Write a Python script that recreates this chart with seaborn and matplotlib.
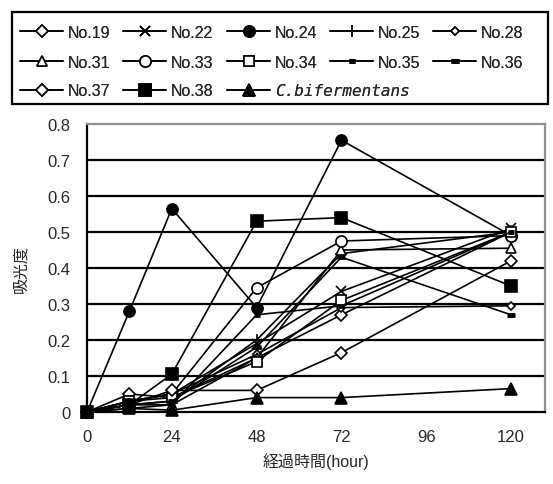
import matplotlib
matplotlib.use("Agg")
import matplotlib.pyplot as plt
from matplotlib.patches import Rectangle
import seaborn as sns
import pandas as pd

sns.set_style("white")
plt.rcParams['font.family'] = ['Liberation Sans', 'Noto Sans CJK JP', 'DejaVu Sans']

hours = [0, 12, 24, 48, 72, 120]
series_names = ["No.19", "No.22", "No.24", "No.25", "No.28",
                "No.31", "No.33", "No.34", "No.35", "No.36",
                "No.37", "No.38", "C.bifermentans"]
no19 = [0, 0.05, 0.04, 0.15, 0.27, 0.50]
no22 = [0, 0.03, 0.05, 0.19, 0.335, 0.51]
no24 = [0, 0.28, 0.565, 0.29, 0.755, 0.49]
no25 = [0, 0.02, 0.03, 0.20, 0.44, 0.50]
no28 = [0, 0.03, 0.05, 0.16, 0.29, 0.295]
no31 = [0, 0.02, 0.02, 0.15, 0.45, 0.455]
no33 = [0, 0.03, 0.05, 0.345, 0.475, 0.49]
no34 = [0, 0.03, 0.04, 0.14, 0.31, 0.50]
no35 = [0, 0.01, 0.02, 0.27, 0.295, 0.50]
no36 = [0, 0.02, 0.03, 0.18, 0.43, 0.27]
no37 = [0, 0.02, 0.06, 0.06, 0.165, 0.42]
no38 = [0, 0.02, 0.105, 0.53, 0.54, 0.35]
cbif = [0, 0.01, 0.005, 0.04, 0.04, 0.065]
values = [no19, no22, no24, no25, no28, no31, no33, no34, no35, no36, no37, no38, cbif]

markers = ["D", "x", "o", "+", "D", "^", "o", "s", "_", "_", "D", "s", "^"]
filled = [False, True, True, True, False, False, False, False, True, True, False, True, True]
msizes = [6, 7, 8, 8, 4.5, 7, 8, 7, 5, 6, 6, 8, 8]
mews = [1.2, 1.2, 1.2, 1.2, 1.2, 1.2, 1.2, 1.2, 3.5, 3.5, 1.2, 1.2, 1.2]

W, H = 553, 485
fig = plt.figure(figsize=(W / 100, H / 100), dpi=100)
ax = fig.add_axes([87/W, 1-413/H, (545-87)/W, (413-125)/H])

handles = []
for name, vals, mk, fl, ms, mw in zip(series_names, values, markers, filled, msizes, mews):
    df = pd.DataFrame({"hour": hours, "abs": vals})
    sns.lineplot(data=df, x="hour", y="abs", ax=ax, color="black", lw=1.2,
                 marker=mk, markersize=ms,
                 markerfacecolor=("black" if fl else "white"),
                 markeredgecolor="black", markeredgewidth=mw,
                 clip_on=False, legend=False, label=name)
    handles.append(ax.lines[-1])

ax.set_xlim(0, 129.6)
ax.set_ylim(0, 0.8)
ax.set_xticks([0, 24, 48, 72, 96, 120])
ax.set_yticks([0, 0.1, 0.2, 0.3, 0.4, 0.5, 0.6, 0.7, 0.8])
ax.set_yticklabels(["0", "0.1", "0.2", "0.3", "0.4", "0.5", "0.6", "0.7", "0.8"])
for yv in [0.1, 0.2, 0.3, 0.4, 0.5, 0.6, 0.7]:
    ax.axhline(yv, color="black", lw=1.6, zorder=0)
ax.tick_params(axis="x", direction="in", length=4, width=1, labelsize=12, pad=12)
ax.tick_params(axis="y", direction="out", length=4, width=1, labelsize=12, pad=8)
for s in ["left", "bottom"]:
    ax.spines[s].set_color("black")
    ax.spines[s].set_linewidth(1.6)
for s in ["top", "right"]:
    ax.spines[s].set_color("#909090")
    ax.spines[s].set_linewidth(1.6)
ax.set_xlabel("経過時間(hour)", fontsize=11.5, labelpad=6)
ax.set_ylabel("吸光度", fontsize=11.5, labelpad=14)

# legend: frame box plus one entry per grid cell (5 columns x 3 rows)
fig.patches.append(Rectangle((12/W, 1-105/H), (548-12)/W, 92/H, transform=fig.transFigure,
                             fill=False, edgecolor="black", lw=1.6))
col_x = [20, 123, 227, 330, 433]
row_y = [33, 63, 92]
fs = 11.5
for i, (h, name) in enumerate(zip(handles, series_names)):
    r, c = divmod(i, 5)
    lg = fig.legend([h], [name], loc="center left",
                    bbox_to_anchor=(col_x[c]/W, 1-row_y[r]/H),
                    frameon=False, fontsize=fs, handlelength=2.7, handletextpad=0.3,
                    borderpad=0, borderaxespad=0)
    if name == "C.bifermentans":
        t = lg.get_texts()[0]
        t.set_fontstyle("italic")
        t.set_family(["DejaVu Sans Mono", "DejaVu Sans"])
    fig.add_artist(lg)

fig.savefig("out.png", dpi=100)
